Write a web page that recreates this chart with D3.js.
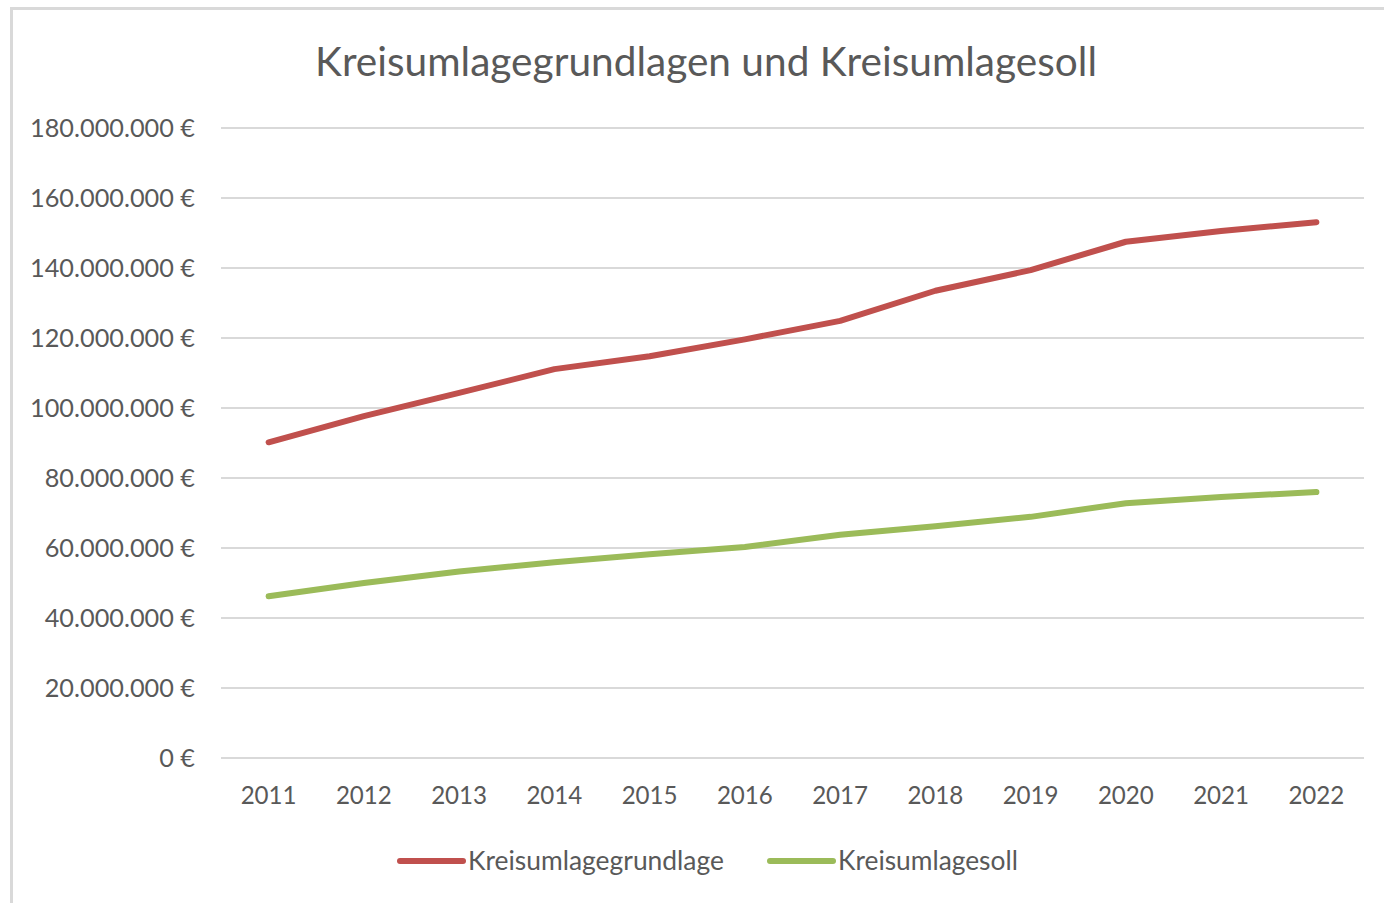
<!DOCTYPE html>
<html>
<head>
<meta charset="utf-8">
<script src="https://cdn.jsdelivr.net/npm/d3@7"></script>
<style>
  body { margin: 0; background: #fff; }
  svg text { font-family: Lato, "Open Sans", sans-serif; fill: #595959; }
</style>
</head>
<body>
<div class="chart"></div>
<script>
// values in Mio. €
let years = ["2011", "2012", "2013", "2014", "2015", "2016", "2017", "2018", "2019", "2020", "2021", "2022"];
let grundlage = [90.2, 97.7, 104.3, 111.1, 114.8, 119.6, 124.9, 133.5, 139.4, 147.5, 150.6, 153.1];
let soll = [46.2, 50.0, 53.3, 55.9, 58.2, 60.3, 63.8, 66.2, 68.9, 72.8, 74.6, 76.0];
let yTicks = [0, 20, 40, 60, 80, 100, 120, 140, 160, 180];
let seriesNames = ["Kreisumlagegrundlage", "Kreisumlagesoll"];
let seriesColors = ["#C0504D", "#9BBB59"];
let title = "Kreisumlagegrundlagen und Kreisumlagesoll";

let width = 1384, height = 903;
let svg = d3.select("div.chart").append("svg")
  .attr("width", width)
  .attr("height", height);

// outer frame (runs off the right/bottom edges like the screenshot)
svg.append("rect")
  .attr("x", 11.5).attr("y", 8.5)
  .attr("width", 1420).attr("height", 1000)
  .attr("fill", "#fff")
  .attr("stroke", "#d9d9d9")
  .attr("stroke-width", 3);

let x = d3.scaleBand().domain(years).range([221, 1364]);
let y = d3.scaleLinear().domain([0, 180]).range([758, 128]);

// helper: set font-size so the text hits a target width
function fitText(sel, w) {
  sel.attr("font-size", 100);
  let len = sel.node().getComputedTextLength();
  sel.attr("font-size", 100 * w / len);
}

// gridlines
svg.append("g")
  .selectAll("line")
  .data(yTicks)
  .enter()
  .append("line")
  .attr("x1", 221).attr("x2", 1364)
  .attr("y1", d => y(d)).attr("y2", d => y(d))
  .attr("stroke", "#d9d9d9")
  .attr("stroke-width", 2);

// y labels
let fmt = d => (d === 0 ? "0" : d3.format(",")(d * 1e6).replace(/,/g, ".")) + " €";
let yLab = svg.append("g")
  .selectAll("text")
  .data(yTicks)
  .enter()
  .append("text")
  .attr("x", 195)
  .attr("y", d => y(d))
  .attr("dy", "0.35em")
  .attr("text-anchor", "end")
  .text(fmt);
fitText(yLab.filter(d => d === 180), 165);
let ySize = yLab.filter(d => d === 180).attr("font-size");
yLab.attr("font-size", ySize);

// x labels
let xLab = svg.append("g")
  .selectAll("text")
  .data(years)
  .enter()
  .append("text")
  .attr("x", d => x(d) + x.bandwidth() / 2)
  .attr("y", 796)
  .attr("dy", "0.35em")
  .attr("text-anchor", "middle")
  .text(d => d);
fitText(xLab.filter((d, i) => i === 0), 56);
xLab.attr("font-size", xLab.filter((d, i) => i === 0).attr("font-size"));

// title
let t = svg.append("text")
  .attr("x", 706)
  .attr("y", 62)
  .attr("dy", "0.35em")
  .attr("text-anchor", "middle")
  .text(title);
fitText(t, 782);

// lines
let line = d3.line()
  .x((d, i) => x(years[i]) + x.bandwidth() / 2)
  .y(d => y(d));

[grundlage, soll].forEach((vals, k) => {
  svg.append("path")
    .datum(vals)
    .attr("d", line)
    .attr("fill", "none")
    .attr("stroke", seriesColors[k])
    .attr("stroke-width", 6)
    .attr("stroke-linecap", "round")
    .attr("stroke-linejoin", "round");
});

// legend
let legendX = [400, 770];
let legendW = [256, 180];
seriesNames.forEach((name, k) => {
  let lg = svg.append("g").attr("transform", "translate(" + legendX[k] + ",861)");
  lg.append("line")
    .attr("x1", 0).attr("x2", 63)
    .attr("stroke", seriesColors[k])
    .attr("stroke-width", 6)
    .attr("stroke-linecap", "round");
  let lt = lg.append("text")
    .attr("x", 68)
    .attr("dy", "0.35em")
    .text(name);
  fitText(lt, legendW[k]);
});
</script>
</body>
</html>
